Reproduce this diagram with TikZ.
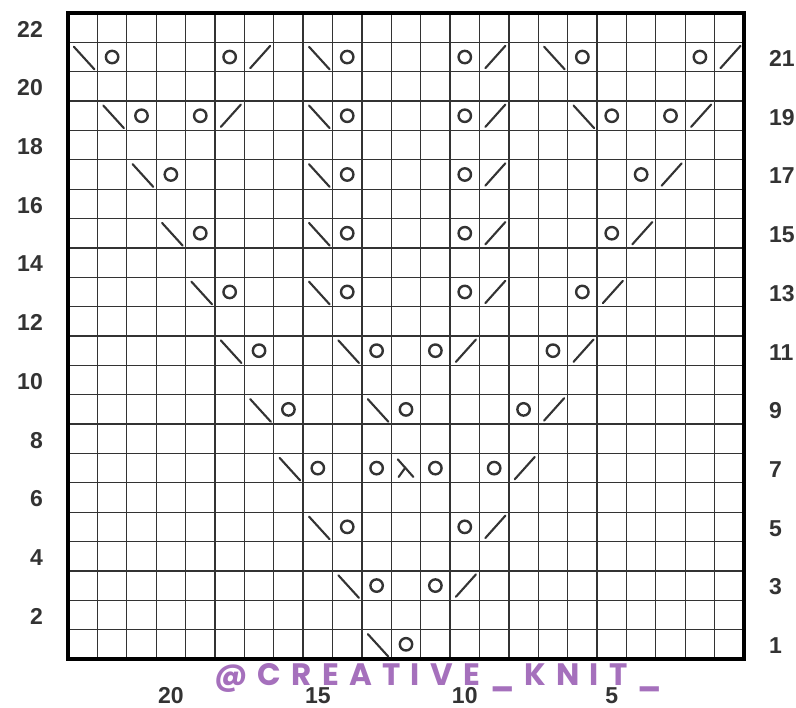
\documentclass[tikz,border=0pt]{standalone}
\usepackage{fontspec}
\setmainfont{Liberation Sans}
\newfontfamily\wmfont[LetterSpace=33]{Poppins}
\definecolor{wmc}{RGB}{140,72,170}
\begin{document}
\begin{tikzpicture}[x=1pt,y=-1pt,
  gridline/.style={line width=1.3pt, black!80},
  border/.style={line width=3.4pt, black},
  yo/.style={line width=2.4pt, black!80},
  dec/.style={line width=2.1pt, black!80, line cap=round},
  num/.style={font=\bfseries\fontsize{23}{23}\selectfont, text=black!80, inner sep=0pt},
  wm/.style={font=\wmfont\bfseries\fontsize{31}{31}\selectfont, text=wmc, text opacity=0.78, inner sep=0pt}]
\fill[white] (0,0) rectangle (796,708);
\useasboundingbox (0,0) rectangle (796,708);
\def\cellw{29.391}
\def\cellh{29.364}
% grid
\foreach \i in {1,...,22} \draw[gridline] ({68+\i*\cellw},13) -- ({68+\i*\cellw},659);
\foreach \j in {1,...,21} \draw[gridline] (68,{13+\j*\cellh}) -- (744,{13+\j*\cellh});
\draw[border] (68,13) rectangle (744,659);
% right-leaning decreases (\)
\foreach \c/\r in {0/21,8/21,16/21, 1/19,8/19,17/19, 2/17,8/17, 3/15,8/15, 4/13,8/13,
  5/11,9/11, 6/9,10/9, 7/7, 8/5, 9/3, 10/1}
  \draw[dec] ({68+(\c+0.2)*\cellw},{659-(\r-0.15)*\cellh}) -- ({68+(\c+0.9)*\cellw},{659-(\r-0.92)*\cellh});
% left-leaning decreases (/)
\foreach \c/\r in {6/21,14/21,22/21, 5/19,14/19,21/19, 14/17,20/17, 14/15,19/15, 14/13,18/13,
  13/11,17/11, 16/9, 15/7, 14/5, 13/3}
  \draw[dec] ({68+(\c+0.2)*\cellw},{659-(\r-0.88)*\cellh}) -- ({68+(\c+0.88)*\cellw},{659-(\r-0.12)*\cellh});
% yarn overs
\foreach \c/\r in {1/21,9/21,17/21,5/21,13/21,21/21, 2/19,9/19,18/19,4/19,13/19,20/19,
  3/17,9/17,13/17,19/17, 4/15,9/15,13/15,18/15, 5/13,9/13,13/13,17/13,
  6/11,10/11,12/11,16/11, 7/9,11/9,15/9, 8/7,10/7,12/7,14/7, 9/5,13/5, 10/3,12/3, 11/1}
  \draw[yo] ({68+(\c+0.5)*\cellw},{659-(\r-0.5)*\cellh}) circle (6.2);
% central double decrease
\draw[dec] ({68+11.22*\cellw},{659-(7-0.2)*\cellh}) -- ({68+11.75*\cellw},{659-(7-0.8)*\cellh});
\draw[dec] ({68+11.48*\cellw},{659-(7-0.48)*\cellh}) -- ({68+11.25*\cellw},{659-(7-0.8)*\cellh});
% labels
\foreach \r in {2,4,...,22}
  \node[num, anchor=east] (L\r) at (43,{660.5-(\r-0.5)*\cellh}) {\r};
\foreach \r in {1,3,...,21}
  \node[num, anchor=west] (R\r) at (769,{660.5-(\r-0.5)*\cellh}) {\r};
\foreach \s in {20,15,10,5}
  \node[num] (B\s) at ({68+(23-\s+0.5)*\cellw},696) {\s};
% watermark
\node[wm, anchor=base west] (wm) at (214,685) {@CREATIVE\_KNIT\_};
\end{tikzpicture}
\end{document}
